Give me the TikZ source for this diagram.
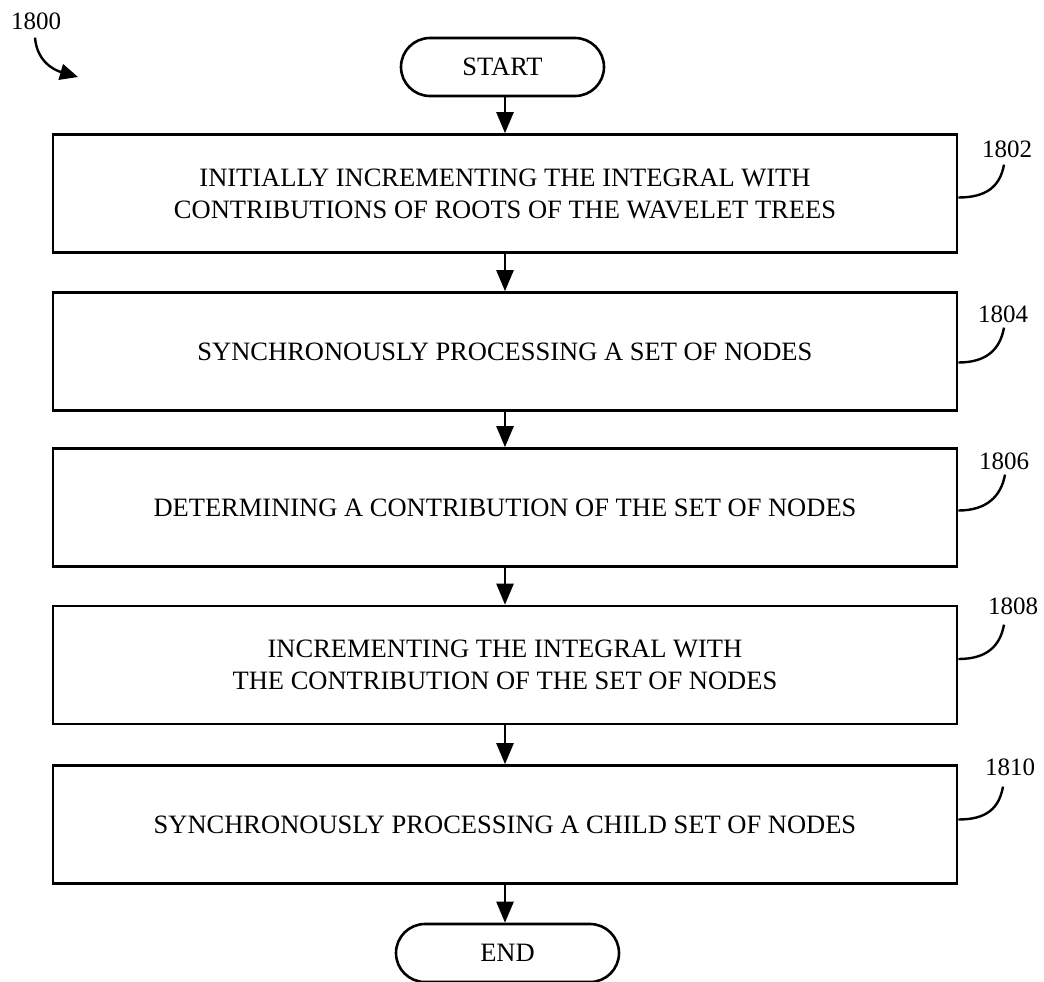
\documentclass[tikz,border=0pt]{standalone}
\usepackage{fontspec}
\setmainfont{Liberation Serif}
\usetikzlibrary{arrows.meta}
\tikzset{
FLOW/.style ={draw=black,line width=2.4pt,-{Triangle[length=21pt,width=17pt]}},
LEADER/.style ={draw=black,line width=2.4pt},
STEPBOX/.style={draw=black,line width=2.6pt,minimum width=904pt,minimum height=118pt,
	align=center,font=\fontsize{26.5}{32}\selectfont},
TERMINAL/.style={draw=black,line width=2.6pt,rounded corners=29pt,minimum height=58pt,
	font=\fontsize{26.5}{30}\selectfont},
REF/.style={inner sep=0pt,font=\fontsize{25}{30}\selectfont},
}
\begin{document}
\begin{tikzpicture}[x=1pt,y=-1pt]
	\useasboundingbox (0,0) rectangle (1044,982);
	%Figure number
	\node[REF] (n1800) at (36,21) {1800};
	\coordinate (c1800) at (78,77);
	\draw[FLOW,-{Triangle[length=18pt,width=16pt]}]
		([shift={(-1,8)}]n1800.south) .. controls +(2,24) and +(-24,-7) .. (c1800);
	%Terminals
	\node[TERMINAL,minimum width=203pt] (t1) at (502.5,67) {START};
	\node[TERMINAL,minimum width=223pt] (t2) at (507.5,953) {END};
	%Steps
	\node[STEPBOX] (s2) at (505,193.5) {INITIALLY INCREMENTING THE INTEGRAL WITH\\
		CONTRIBUTIONS OF ROOTS OF THE WAVELET TREES};
	\node[STEPBOX] (s4) at (505,351.5) {SYNCHRONOUSLY PROCESSING A SET OF NODES};
	\node[STEPBOX] (s6) at (505,507.5) {DETERMINING A CONTRIBUTION OF THE SET OF NODES};
	\node[STEPBOX] (s8) at (505,665) {INCREMENTING THE INTEGRAL WITH\\
		THE CONTRIBUTION OF THE SET OF NODES};
	\node[STEPBOX] (s10) at (505,824.5) {SYNCHRONOUSLY PROCESSING A CHILD SET OF NODES};
	%Flow
	\draw[FLOW] (s2.north |- t1.south) -- (s2.north);
	\draw[FLOW] (s2.south) -- (s4.north);
	\draw[FLOW] (s4.south) -- (s6.north);
	\draw[FLOW] (s6.south) -- (s8.north);
	\draw[FLOW] (s8.south) -- (s10.north);
	\draw[FLOW] (s10.south) -- (s10.south |- t2.north);
	%Reference numerals
	\node[REF] (l2) at (1007,149) {1802};
	\node[REF] (l4) at (1003,314) {1804};
	\node[REF] (l6) at (1004,461) {1806};
	\node[REF] (l8) at (1013,606) {1808};
	\node[REF] (l10) at (1010,767) {1810};
	\draw[LEADER] ([shift={(0,4)}]s2.east) .. controls +(28,0) and +(-4,22) .. ([shift={(-3,7)}]l2.south);
	\draw[LEADER] ([shift={(0,11)}]s4.east) .. controls +(28,0) and +(-4,22) .. ([shift={(1,5)}]l4.south);
	\draw[LEADER] ([shift={(0,3)}]s6.east) .. controls +(28,0) and +(-4,22) .. ([shift={(1,5)}]l6.south);
	\draw[LEADER] ([shift={(0,-6)}]s8.east) .. controls +(28,0) and +(-4,22) .. ([shift={(-9,10)}]l8.south);
	\draw[LEADER] ([shift={(0,-5)}]s10.east) .. controls +(28,0) and +(-4,22) .. ([shift={(-7,11)}]l10.south);
\end{tikzpicture}
\end{document}
